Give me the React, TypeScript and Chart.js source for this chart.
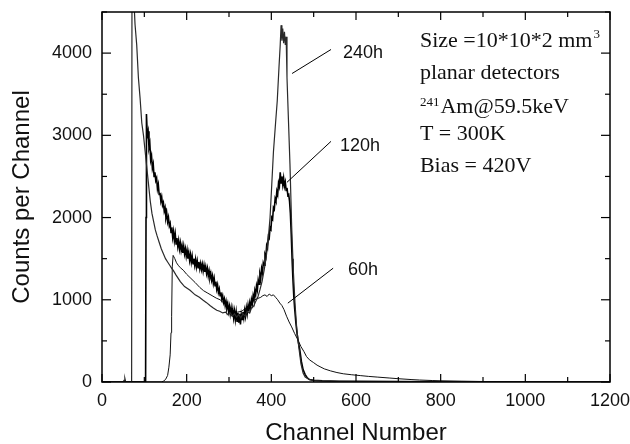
import React, { useEffect, useRef } from "react";
import { Chart, registerables } from "chart.js";

Chart.register(...registerables);

// ---------------- data ----------------
const ch240 = [0, 50, 52, 54, 56, 70, 71, 74, 78, 82, 86, 90, 94, 98, 102, 106, 110, 114, 118, 122, 126, 130, 135, 140, 145, 150, 155, 160, 165, 168, 175, 185, 195, 208, 220, 230, 239, 247, 255, 263, 271, 278, 285, 292, 298, 303, 308, 313, 318, 323, 328, 333, 338, 343, 348, 353, 358, 363, 368, 373, 378, 383, 388, 393, 397, 401, 405, 410, 414, 418, 421, 423, 425, 427, 429, 431, 433, 435, 437, 440, 444, 448, 452, 456, 460, 465, 470, 475, 480, 490, 500, 520, 550, 600, 650, 700, 800, 900, 1200];
const cnt240 = [0, 0, 20, 45, 0, 0, 6000, 4800, 4350, 4100, 3700, 3450, 3150, 3000, 2800, 2600, 2400, 2200, 2050, 1950, 1850, 1780, 1700, 1620, 1560, 1500, 1460, 1420, 1380, 1360, 1300, 1220, 1160, 1115, 1060, 1030, 994, 965, 930, 900, 873, 860, 840, 850, 815, 840, 800, 830, 790, 820, 780, 830, 800, 860, 840, 900, 920, 980, 1030, 1120, 1220, 1360, 1520, 1760, 2000, 2400, 2800, 3150, 3420, 3820, 4100, 4340, 4150, 4300, 4120, 4260, 4100, 4200, 3700, 3250, 2650, 1900, 1350, 950, 650, 420, 220, 110, 60, 30, 18, 12, 8, 5, 3, 2, 1, 0, 0];

const ch120 = [0, 100, 103, 104, 105, 107, 109, 111, 113, 115, 117, 119, 121, 123, 125, 127, 129, 131, 133, 135, 137, 139, 141, 143, 145, 147, 149, 151, 153, 155, 157, 159, 161, 163, 165, 167, 169, 171, 173, 175, 177, 179, 181, 183, 185, 187, 189, 191, 193, 195, 197, 199, 201, 203, 205, 207, 209, 211, 213, 215, 217, 219, 221, 223, 225, 227, 229, 231, 233, 235, 237, 239, 241, 243, 245, 247, 249, 251, 253, 255, 257, 259, 261, 263, 265, 267, 269, 271, 273, 275, 277, 279, 281, 283, 285, 287, 289, 291, 293, 295, 297, 299, 301, 303, 305, 307, 309, 311, 313, 315, 317, 319, 321, 323, 325, 327, 329, 331, 333, 335, 337, 339, 341, 343, 345, 347, 349, 351, 353, 355, 357, 359, 361, 363, 365, 367, 369, 371, 373, 375, 377, 379, 381, 383, 385, 387, 389, 391, 393, 395, 397, 399, 401, 403, 405, 407, 409, 411, 413, 415, 417, 419, 421, 423, 425, 427, 429, 431, 433, 435, 437, 439, 441, 443, 445, 447, 449, 451, 453, 455, 458, 461, 464, 467, 471, 475, 480, 485, 490, 500, 520, 560, 600, 700, 800, 900, 1200];
const cnt120 = [0, 0, 0, 2000, 3260, 3000, 3050, 2850, 2900, 2700, 2750, 2600, 2650, 2500, 2550, 2450, 2480, 2350, 2400, 2280, 2300, 2200, 2250, 2150, 2180, 2080, 2120, 2000, 2050, 1950, 2000, 1900, 1930, 1820, 1880, 1760, 1830, 1720, 1800, 1680, 1750, 1650, 1720, 1620, 1690, 1600, 1660, 1570, 1650, 1560, 1620, 1530, 1600, 1500, 1570, 1480, 1550, 1460, 1530, 1440, 1500, 1420, 1490, 1400, 1470, 1390, 1460, 1380, 1440, 1370, 1430, 1350, 1420, 1340, 1400, 1320, 1380, 1290, 1350, 1270, 1320, 1240, 1290, 1200, 1260, 1170, 1220, 1130, 1180, 1090, 1130, 1050, 1090, 1010, 1050, 970, 1010, 930, 980, 900, 950, 860, 920, 830, 900, 800, 880, 780, 860, 760, 850, 740, 840, 720, 830, 700, 820, 760, 850, 780, 870, 800, 900, 830, 930, 860, 960, 900, 1000, 950, 1050, 1000, 1110, 1060, 1170, 1120, 1240, 1190, 1310, 1260, 1380, 1330, 1450, 1420, 1550, 1520, 1660, 1630, 1770, 1750, 1880, 1860, 2000, 1980, 2120, 2100, 2230, 2200, 2320, 2280, 2420, 2380, 2550, 2420, 2500, 2400, 2480, 2380, 2430, 2330, 2360, 2270, 2280, 2200, 2050, 1800, 1500, 1250, 1050, 900, 720, 580, 480, 400, 250, 150, 90, 50, 30, 20, 15, 10, 8, 5, 3, 0, 0];

const ch60 = [0, 140, 145, 150, 155, 158, 161, 163, 164.5, 166, 168, 172, 176, 180, 185, 192, 200, 210, 220, 231, 240, 250, 260, 270, 279, 290, 300, 310, 320, 330, 340, 350, 357, 365, 375, 380, 385, 390, 395, 400, 405, 410, 415, 420, 425, 430, 436, 442, 448, 455, 463, 470, 477, 483, 490, 500, 508, 515, 525, 540, 555, 570, 590, 610, 630, 650, 680, 700, 730, 750, 780, 800, 850, 900, 950, 1000, 1100, 1200];
const cnt60 = [0, 0, 10, 30, 80, 180, 330, 600, 800, 1400, 1540, 1500, 1450, 1420, 1390, 1360, 1310, 1260, 1210, 1150, 1110, 1080, 1050, 1020, 1000, 950, 900, 870, 850, 860, 900, 950, 990, 1010, 1030, 1050, 1060, 1040, 1070, 1050, 1060, 1030, 1000, 960, 930, 880, 800, 730, 670, 590, 510, 430, 370, 310, 270, 235, 205, 186, 160, 135, 115, 100, 88, 78, 68, 60, 48, 40, 30, 24, 18, 15, 10, 6, 4, 2, 0, 0];

// axis settings
const X_MIN = 0, X_MAX = 1200, X_MINOR = 100;
const Y_MIN = 0, Y_MAX = 4500, Y_MINOR = 500;
const xTickValues = [0, 200, 400, 600, 800, 1000, 1200];
const yTickValues = [0, 1000, 2000, 3000, 4000];

// annotation texts (anchors in data units: channel, counts)
const seriesLabels = ["240h", "120h", "60h"];
const labelAnchorX = [569, 562, 581];
const labelAnchorY = [3995, 2866, 1360];
const leaderFromX = [449, 437, 439];
const leaderFromY = [3752, 2429, 959];
const leaderToX = [541, 541, 546];
const leaderToY = [4044, 2927, 1384];

const infoX = 751;
const infoBaselines = [4080, 3680, 3267, 2939, 2550];

const SANS = '"Liberation Sans", Arial, Helvetica, sans-serif';
const SERIF = '"Liberation Serif", "Times New Roman", Times, serif';

const pts = (xs: number[], ys: number[]) => xs.map((x, i) => ({ x, y: ys[i] }));

const noScalePadding = (s: any) => {
  s.paddingTop = 0;
  s.paddingBottom = 0;
  s.paddingLeft = 0;
  s.paddingRight = 0;
};

const decorPlugin = {
  id: "decor",
  afterDraw(chart: any) {
    const { ctx, chartArea } = chart;
    const { left, right, top, bottom } = chartArea;
    const xs = chart.scales.x;
    const ys = chart.scales.y;
    ctx.save();
    ctx.strokeStyle = "#000";
    ctx.lineWidth = 1.5;
    ctx.strokeRect(left, top, right - left, bottom - top);
    ctx.lineWidth = 1.2;
    const seg = (a: number, b: number, c: number, d: number) => {
      ctx.beginPath();
      ctx.moveTo(a, b);
      ctx.lineTo(c, d);
      ctx.stroke();
    };
    for (let v = X_MIN; v <= X_MAX; v += X_MINOR) {
      const px = xs.getPixelForValue(v);
      const len = xTickValues.includes(v) ? 8 : 5;
      seg(px, bottom, px, bottom - len);
      seg(px, top, px, top + len);
    }
    for (let v = Y_MIN; v <= Y_MAX; v += Y_MINOR) {
      const py = ys.getPixelForValue(v);
      const len = yTickValues.includes(v) ? 9 : 5;
      seg(left, py, left + len, py);
      seg(right, py, right - len, py);
    }
    // leader lines and labels
    ctx.lineWidth = 1;
    ctx.fillStyle = "#111";
    ctx.font = `18px ${SANS}`;
    ctx.textBaseline = "middle";
    ctx.textAlign = "left";
    seriesLabels.forEach((t, i) => {
      seg(
        xs.getPixelForValue(leaderFromX[i]),
        ys.getPixelForValue(leaderFromY[i]),
        xs.getPixelForValue(leaderToX[i]),
        ys.getPixelForValue(leaderToY[i])
      );
      ctx.fillText(t, xs.getPixelForValue(labelAnchorX[i]), ys.getPixelForValue(labelAnchorY[i]));
    });
    // info block
    ctx.textBaseline = "alphabetic";
    const ix = xs.getPixelForValue(infoX);
    const b = infoBaselines.map((v) => ys.getPixelForValue(v));
    const big = `22px ${SERIF}`;
    const small = `13px ${SERIF}`;
    ctx.font = big;
    const l1 = "Size =10*10*2 mm";
    ctx.fillText(l1, ix, b[0]);
    const w1 = ctx.measureText(l1).width;
    ctx.font = small;
    ctx.fillText("3", ix + w1 + 1, b[0] - 9);
    ctx.font = big;
    ctx.fillText("planar detectors", ix, b[1]);
    ctx.font = small;
    ctx.fillText("241", ix, b[2] - 7);
    const w3 = ctx.measureText("241").width;
    ctx.font = big;
    ctx.fillText("Am@59.5keV", ix + w3 + 1, b[2]);
    ctx.fillText("T = 300K", ix, b[3]);
    ctx.fillText("Bias = 420V", ix, b[4]);
    ctx.restore();
  },
};

export default function App() {
  const ref = useRef<HTMLCanvasElement | null>(null);
  useEffect(() => {
    if (!ref.current) return;
    const chart = new Chart(ref.current, {
      type: "line",
      data: {
        datasets: [
          {
            label: "240h",
            data: pts(ch240, cnt240),
            borderColor: "#2a2a2a",
            borderWidth: 1.2,
            pointRadius: 0,
            tension: 0,
          },
          {
            label: "120h",
            data: pts(ch120, cnt120),
            borderColor: "#000",
            borderWidth: 1.6,
            pointRadius: 0,
            tension: 0,
          },
          {
            label: "60h",
            data: pts(ch60, cnt60),
            borderColor: "#111",
            borderWidth: 1,
            pointRadius: 0,
            tension: 0,
          },
        ],
      },
      options: {
        responsive: false,
        animation: false,
        devicePixelRatio: 1,
        layout: { padding: { top: 12, right: 20, left: 0, bottom: 0 } },
        plugins: { legend: { display: false }, tooltip: { enabled: false } },
        scales: {
          x: {
            type: "linear",
            min: X_MIN,
            max: X_MAX,
            afterFit: (s: any) => {
              s.height = 62;
              noScalePadding(s);
            },
            afterBuildTicks: (s: any) => {
              s.ticks = xTickValues.map((v) => ({ value: v }));
            },
            grid: { display: false, drawTicks: false },
            border: { display: false },
            ticks: {
              padding: 8,
              color: "#111",
              font: { family: SANS, size: 18 },
              maxRotation: 0,
              autoSkip: false,
              callback: (v: any) => String(v),
            },
            title: {
              display: true,
              text: "Channel Number",
              color: "#111",
              font: { family: SANS, size: 24, lineHeight: 0.9 },
              padding: 0,
            },
          },
          y: {
            type: "linear",
            min: Y_MIN,
            max: Y_MAX,
            afterFit: (s: any) => {
              s.width = 102;
              noScalePadding(s);
            },
            afterBuildTicks: (s: any) => {
              s.ticks = yTickValues.map((v) => ({ value: v }));
            },
            grid: { display: false, drawTicks: false },
            border: { display: false },
            ticks: {
              padding: 10,
              color: "#111",
              autoSkip: false,
              font: { family: SANS, size: 18 },
              callback: (v: any) => String(v),
            },
            title: {
              display: true,
              text: "Counts per Channel",
              color: "#111",
              font: { family: SANS, size: 24 },
              padding: { top: 8, bottom: 0 },
            },
          },
        },
      },
      plugins: [decorPlugin],
    });
    return () => chart.destroy();
  }, []);
  return (
    <div style={{ position: "absolute", left: 0, top: 0, width: 630, height: 444, background: "#fff" }}>
      <canvas ref={ref} width={630} height={444} />
    </div>
  );
}
